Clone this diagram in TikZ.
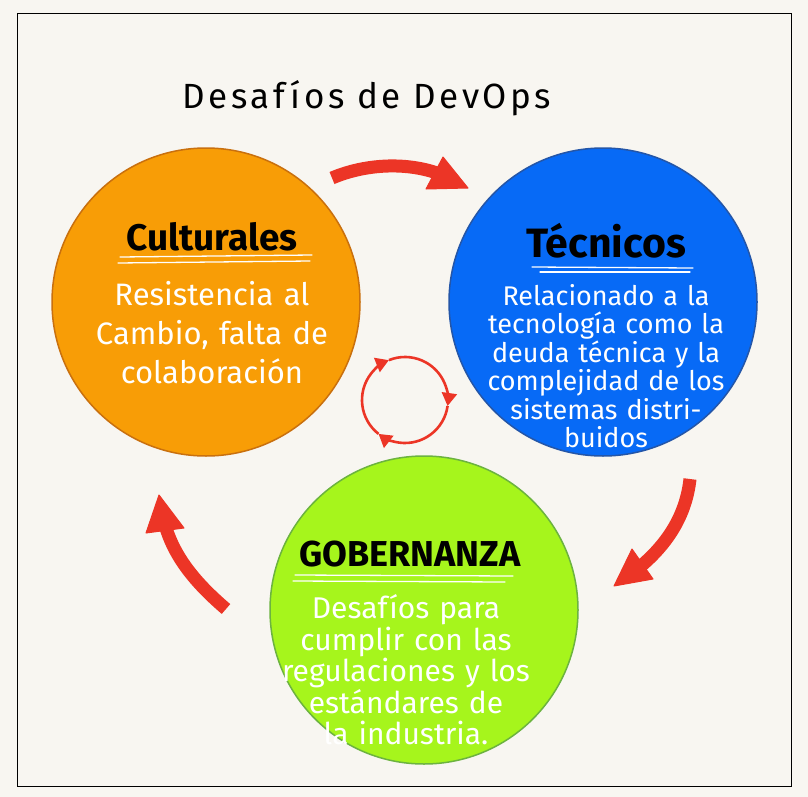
\documentclass[tikz,border=0pt]{standalone}
\usepackage{fontspec}
\setmainfont{Fira Sans}
\usetikzlibrary{arrows.meta}
\definecolor{bg}{HTML}{F8F6F1}
\definecolor{orangefill}{HTML}{F89D06}
\definecolor{orangeline}{HTML}{C9700E}
\definecolor{bluefill}{HTML}{076AF6}
\definecolor{blueline}{HTML}{2456A8}
\definecolor{greenfill}{HTML}{A6F51C}
\definecolor{greenline}{HTML}{6CB33F}
\definecolor{arrowred}{HTML}{EC3526}
\tikzset{
  bubble/.style={circle, line width=1.5pt, minimum size=308pt, inner sep=0pt},
  headtext/.style={text=black, font=\bfseries\fontsize{#1}{#1}\selectfont},
  bodytext/.style={text=white, align=center, font=\fontsize{#1}{#1}\selectfont},
  underl/.style={draw=white, line width=1.3pt, line cap=round},
  bigarrow/.style={draw=arrowred, line width=13pt},
  bighead/.style={fill=arrowred, draw=arrowred, line width=1pt, line join=round},
  cyc/.style={draw=arrowred, line width=2.6pt, -{Triangle[width=15pt,length=13pt]}}
}
\begin{document}
\begin{tikzpicture}[x=1pt,y=-1pt]
\fill[bg] (0,0) rectangle (808,797);
\useasboundingbox (0,0) rectangle (808,797);
\draw[black, line width=1pt] (17,14) rectangle (791,786);

% title
\node[font=\addfontfeature{LetterSpace=10}\fontsize{35}{35}\selectfont, text=black] (title) at (367,98) {Desafíos de DevOps};

% circles
\node[bubble, draw=orangeline, fill=orangefill] (cult) at (206,302) {};
\node[bubble, draw=blueline, fill=bluefill] (tec) at (603,302) {};
\node[bubble, draw=greenline, fill=greenfill] (gob) at (424,610) {};

% Culturales
\node[headtext=37] (cultT) at (212,237) {Culturales};
\draw[underl] (120,257) -- (312,255);
\draw[underl] (118,263) -- (310,261);
\node[bodytext=31, text width=300pt, execute at begin node={\setlength{\baselineskip}{39pt}}] (cultB) at (212,333) {Resistencia al\\Cambio, falta de\\colaboración};

% Tecnicos
\node[headtext=41] (tecT) at (606,241) {Técnicos};
\draw[underl] (532,267) -- (693,268);
\draw[underl] (540,272) -- (690,272);
\node[bodytext=27, text width=340pt, execute at begin node={\setlength{\baselineskip}{28.5pt}}] (tecB) at (606,366) {Relacionado a la\\tecnología como la\\deuda técnica y la\\complejidad de los\\sistemas distri-\\buidos};

% Gobernanza
\node[headtext=36] (gobT) at (410,554) {GOBERNANZA};
\draw[underl] (295,575) -- (513,576);
\draw[underl] (293,581) -- (505,582);
\node[bodytext=30, text width=340pt, execute at begin node={\setlength{\baselineskip}{31.5pt}}] (gobB) at (406,670) {Desafíos para\\cumplir con las\\regulaciones y los\\estándares de\\la industria.};

% big arrows
\coordinate (a1s) at (332,178);
\coordinate (a1e) at (437,173);
\draw[bigarrow] (a1s) .. controls (365,164) and (405,162) .. (a1e);
\fill[bighead] (443,157) -- (468,188) -- (426,189) -- cycle;

\coordinate (a2s) at (690,479);
\coordinate (a2e) at (641,566);
\draw[bigarrow] (a2s) .. controls (686,515) and (668,543) .. (a2e);
\fill[bighead] (632,549) -- (614,586) -- (653,579) -- cycle;

\coordinate (a3s) at (226,609);
\coordinate (a3e) at (166,528);
\draw[bigarrow] (a3s) .. controls (198,585) and (176,560) .. (a3e);
\fill[bighead] (146,533) -- (159,495) -- (184,528) -- cycle;

% cycle symbol
\coordinate (cyc) at (405,400);
\draw[cyc] ([shift={(-232:43)}]cyc) arc[start angle=-232, end angle=-112, radius=43];
\draw[cyc] ([shift={(-112:43)}]cyc) arc[start angle=-112, end angle=8, radius=43];
\draw[cyc] ([shift={(8:43)}]cyc) arc[start angle=8, end angle=128, radius=43];
\end{tikzpicture}
\end{document}
